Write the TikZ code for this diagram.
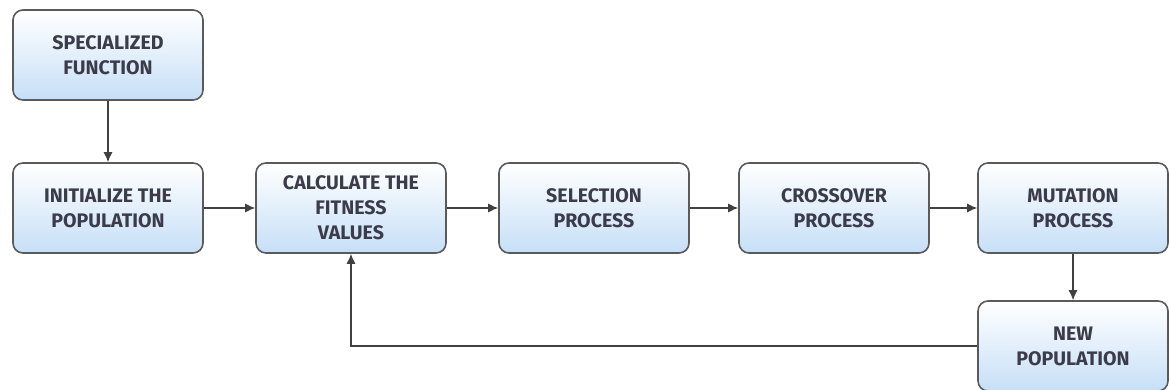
\documentclass[tikz,border=0pt]{standalone}
\usepackage{fontspec}
\setmainfont{Fira Sans}
\usetikzlibrary{arrows.meta}
\definecolor{boxblue}{HTML}{C6DFF7}
\definecolor{boxline}{HTML}{5A5A5A}
\definecolor{boxtext}{HTML}{3B3B4A}
\tikzset{
  stage/.style={draw=boxline, line width=0.8pt, rounded corners=5pt,
    minimum width=95pt, minimum height=45pt, inner sep=0pt,
    top color=white, bottom color=boxblue, align=center, text=boxtext,
    font=\bfseries\fontsize{9.8}{12.5}\selectfont},
  flow/.style={-{Latex[length=5pt,width=4.5pt]}, line width=0.6pt, draw=black!75}
}
\begin{document}
\begin{tikzpicture}[x=0.5pt, y=-0.5pt]
\useasboundingbox (0,0) rectangle (1170,390);

% stages
\node[stage] (spec)   at (108,55)   {SPECIALIZED\\FUNCTION};
\node[stage] (init)   at (108,208)  {INITIALIZE THE\\POPULATION};
\node[stage] (calc)   at (351,208)  {CALCULATE THE\\FITNESS\\VALUES};
\node[stage] (sel)    at (594,208)  {SELECTION\\PROCESS};
\node[stage] (cross)  at (834,208)  {CROSSOVER\\PROCESS};
\node[stage] (mut)    at (1073,208) {MUTATION\\PROCESS};
\node[stage] (newpop) at (1073,346) {NEW\\POPULATION};

% flow
\draw[flow] (spec) -- (init);
\draw[flow] (init) -- (calc);
\draw[flow] (calc) -- (sel);
\draw[flow] (sel) -- (cross);
\draw[flow] (cross) -- (mut);
\draw[flow] (mut) -- (newpop);
\draw[flow] (newpop.west) -| (calc.south);

\end{tikzpicture}
\end{document}
